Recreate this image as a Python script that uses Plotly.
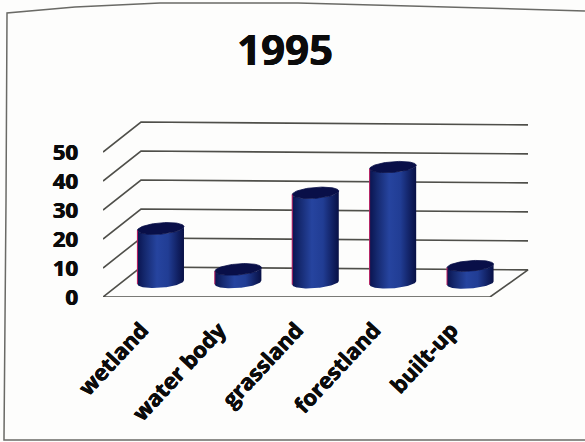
import numpy as np
import plotly.graph_objects as go

# Land-cover shares for 1995
categories = ["wetland", "water body", "grassland", "forestland", "built-up"]
values = [18.5, 4.5, 31, 40, 6]
y_ticks = [0, 10, 20, 30, 40, 50]

WIDTH, HEIGHT = 585, 442

# Axis placement on the page, in pixels
AX_LEFT, AX_RIGHT, AX_BOTTOM, AX_TOP = 103, 535, 297, 90
PX_PER_CAT = 77.4
PX_PER_UNIT = 2.9

# Oblique projection of the chart's depth direction
DEPTH_DX = 38 / PX_PER_CAT
DEPTH_DV = 30 / PX_PER_UNIT
BACK_SAG = 1.0  # the back wall runs slightly downhill to the right

# Cylinder proportions
RADIUS_X = 22 / PX_PER_CAT
RADIUS_D = 0.2

FONT = "Open Sans"
INK = "#0b0b0b"
HEAVY = "0.5px 0 0 #0b0b0b, -0.3px 0 0 #0b0b0b"  # thickens the bold strokes a little
GRID = "#4f4f4a"


def project(x, v, d):
    """Map category position, value and depth (0 front, 1 back) to axis coordinates."""
    x = np.asarray(x, dtype=float)
    v = np.asarray(v, dtype=float)
    d = np.asarray(d, dtype=float)
    return x + d * DEPTH_DX, v + d * DEPTH_DV - BACK_SAG * d * (x + 0.5) / 5


def rim(center, t, level):
    """Points on a cylinder's circular rim at the given value level."""
    return project(center + RADIUS_X * np.cos(t),
                   np.full_like(t, level, dtype=float),
                   0.5 + RADIUS_D * np.sin(t))


fig = go.Figure()

# Walls: one line per tick, running from the front edge to the back and across
for tick in y_ticks[1:]:
    px, py = project([-0.5, -0.5, 4.5], [tick] * 3, [0, 1, 1])
    fig.add_trace(go.Scatter(x=px, y=py, mode="lines",
                             line=dict(color=GRID, width=1.6), hoverinfo="skip"))

# Floor outline
fx, fy = project([-0.5, 4.5, 4.5, -0.5, -0.5], [0] * 5, [0, 0, 1, 1, 0])
fig.add_trace(go.Scatter(x=fx, y=fy, mode="lines",
                         line=dict(color=GRID, width=1.6), hoverinfo="skip"))

# Silhouette angle of the sheared rim ellipse
t0 = np.arctan2(RADIUS_D * DEPTH_DX, RADIUS_X)

for i, val in enumerate(values):
    # Body: near half of the floor rim, then near half of the top rim coming back
    near_t = np.linspace(np.pi + t0, 2 * np.pi + t0, 60)
    lx, ly = rim(i, near_t, 0)
    ux, uy = rim(i, near_t[::-1], val)
    fig.add_trace(go.Scatter(
        x=np.concatenate([lx, ux]), y=np.concatenate([ly, uy]),
        mode="lines", fill="toself",
        line=dict(width=0, color="rgba(0,0,0,0)"),
        fillgradient=dict(
            type="horizontal",
            colorscale=[[0, "#0a1450"], [0.16, "#15296f"], [0.42, "#26449f"],
                        [0.66, "#213d94"], [0.88, "#101f60"], [1, "#081045"]],
        ),
        hoverinfo="skip",
    ))

    # Top cap
    t_all = np.linspace(0, 2 * np.pi, 80)
    cx, cy = rim(i, t_all, val)
    fig.add_trace(go.Scatter(x=cx, y=cy, mode="lines", fill="toself", fillcolor="#090f48",
                             line=dict(width=0.8, color="#090f48"), hoverinfo="skip"))

    # Coloured fringe along the left silhouette
    ex, ey = project([i + RADIUS_X * np.cos(np.pi + t0)] * 2, [0, val],
                     [0.5 + RADIUS_D * np.sin(np.pi + t0)] * 2)
    fig.add_trace(go.Scatter(x=ex, y=ey, mode="lines",
                             line=dict(width=1, color="#b8185c"), hoverinfo="skip"))

# Frame around the chart, in fractions of the axis area
def paper_xy(x_px, y_px):
    return (x_px - AX_LEFT) / (AX_RIGHT - AX_LEFT), (AX_BOTTOM - y_px) / (AX_BOTTOM - AX_TOP)


frame_px = [(585, 11), (410, 6), (298, 3), (160, 3), (75, 7), (7, 13), (6, 200), (4, 440), (585, 440)]
frame_path = "M " + " L ".join("{:.4f},{:.4f}".format(*paper_xy(x, y)) for x, y in frame_px)

fig.update_layout(
    width=WIDTH, height=HEIGHT,
    margin=dict(l=AX_LEFT, r=WIDTH - AX_RIGHT, t=AX_TOP, b=HEIGHT - AX_BOTTOM, autoexpand=False),
    paper_bgcolor="#fdfdfc", plot_bgcolor="rgba(0,0,0,0)",
    showlegend=False,
    title=dict(text="<b>1995</b>", x=285 / WIDTH, y=1 - 50 / HEIGHT,
               xanchor="center", yanchor="middle",
               font=dict(family=FONT, size=42, color=INK, shadow=HEAVY)),
    xaxis=dict(
        range=[-0.5, -0.5 + (AX_RIGHT - AX_LEFT) / PX_PER_CAT],
        tickmode="array", tickvals=list(range(len(categories))), ticktext=categories,
        tickangle=-47, ticklabelstandoff=15,
        tickfont=dict(family=FONT, size=22, color=INK, weight="bold", shadow=HEAVY),
        showgrid=False, zeroline=False, showline=False, ticks="",
    ),
    yaxis=dict(
        range=[0, (AX_BOTTOM - AX_TOP) / PX_PER_UNIT],
        tickmode="array", tickvals=y_ticks,
        ticklabelstandoff=24,
        tickfont=dict(family=FONT, size=22, color=INK, weight="bold", shadow=HEAVY),
        showgrid=False, zeroline=False, showline=False, ticks="",
    ),
    shapes=[dict(type="path", path=frame_path, xref="paper", yref="paper",
                 line=dict(color="#6a6a66", width=1.5))],
)

fig.write_html("out.html")
